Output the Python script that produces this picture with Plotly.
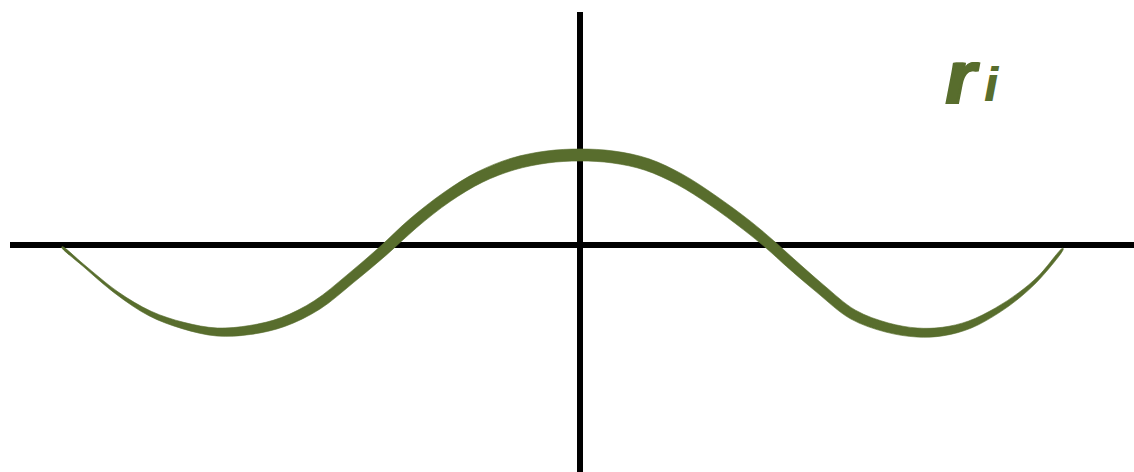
import numpy as np
import plotly.graph_objects as go

# Curve samples (x relative to vertical axis, y relative to horizontal axis)
curve_x = [-518, -497, -463, -430, -397, -363, -330, -297, -263, -230, -197, -167,
           -133, -100, -67, -33, 0, 33, 67, 100, 133, 167, 190, 210, 240, 273,
           307, 337, 363, 390, 417, 440, 460, 483]
curve_y = [-2.5, -20.5, -48.5, -69, -81, -87.5, -85.5, -77.5, -60.5, -34.5, -6.5, 21,
           47.5, 67.5, 80.5, 87.5, 89.5, 87.5, 80, 65, 44, 19, 0, -18, -44, -70,
           -83, -88, -87, -80, -66, -50, -32, -4]
# Stroke thickness along the curve (style)
stroke_w = [1, 2, 3, 5, 6.5, 8, 9, 9.5, 10, 10, 10.5, 11,
            11, 11.5, 12, 12, 12, 12, 12, 11.5, 11, 11, 10.5, 10.5, 10, 10,
            9.5, 9, 8.5, 7.5, 6, 4.5, 3, 1]

label_main = "r"
label_sub = "i"
GREEN = "#586d2d"

x = np.array(curve_x, float)
y = np.array(curve_y, float)
w = np.array(stroke_w, float)
dx = np.gradient(x)
dy = np.gradient(y)
n = np.hypot(dx, dy)
nx, ny = -dy / n, dx / n
ux, uy = x + nx * w / 2, y + ny * w / 2
lx, ly = x - nx * w / 2, y - ny * w / 2
px = np.concatenate([ux, lx[::-1], ux[:1]])
py = np.concatenate([uy, ly[::-1], uy[:1]])

fig = go.Figure()
fig.add_trace(go.Scatter(
    x=px, y=py, mode="lines", fill="toself", fillcolor=GREEN,
    line=dict(color=GREEN, width=0.6, shape="spline", smoothing=1.0),
    hoverinfo="skip", showlegend=False))

shadow = "1px 0 0 %s, 2px 0 0 %s, 3px 0 0 %s" % (GREEN, GREEN, GREEN)
fig.add_annotation(x=381, y=167.5, xref="x", yref="y", text="<b><i>" + label_main + "</i></b>",
                   showarrow=False,
                   font=dict(family="Liberation Sans", size=77, color=GREEN, shadow=shadow))
fig.add_annotation(x=411, y=160, xref="x", yref="y", text="<b><i>" + label_sub + "</i></b>",
                   showarrow=False,
                   font=dict(family="Liberation Sans", size=48, color=GREEN,
                             shadow="1px 0 0 %s" % GREEN))

fig.update_layout(
    width=1134, height=472,
    margin=dict(l=10, r=0, t=12, b=0),
    paper_bgcolor="white", plot_bgcolor="white",
    hovermode=False,
    xaxis=dict(range=[-570, 554], showgrid=False, showticklabels=False, ticks="",
               zeroline=True, zerolinecolor="black", zerolinewidth=6, fixedrange=True),
    yaxis=dict(range=[-227.5, 232.5], showgrid=False, showticklabels=False, ticks="",
               zeroline=True, zerolinecolor="black", zerolinewidth=6, fixedrange=True),
)

fig.write_html("out.html",
               config={"displayModeBar": False, "staticPlot": True},
               post_script="document.body.style.margin='0';document.body.style.overflow='hidden';")
